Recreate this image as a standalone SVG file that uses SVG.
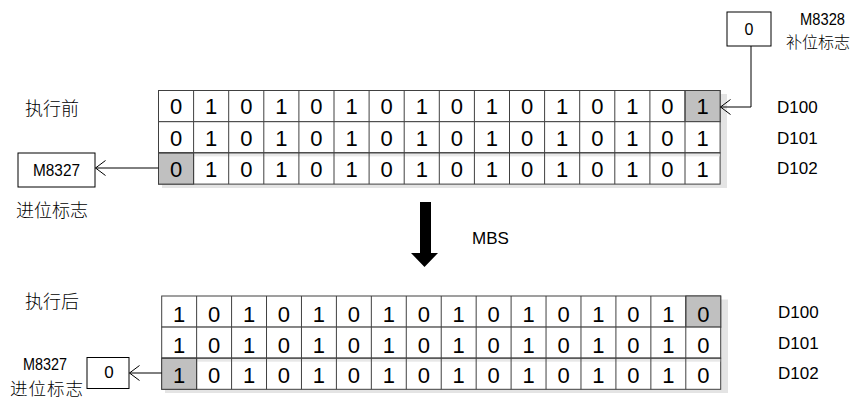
<svg xmlns="http://www.w3.org/2000/svg" width="862" height="401" viewBox="0 0 862 401">
<defs>
<style>
.bg{fill:#ffffff}
.cell{fill:#ffffff;stroke:#404040;stroke-width:1}
.grid{fill:none;stroke:#404040;stroke-width:1}
.hl{fill:#c0c0c0;stroke:#404040;stroke-width:1}
.shadow{fill:#e4e4e4}
.band{fill:#e8e8e8}
.d{font-family:"Liberation Sans",Arial,sans-serif;font-size:22px;fill:#000;text-anchor:middle}
.lbl{font-family:"Liberation Sans",Arial,sans-serif;font-size:17px;fill:#000}
.cjk{font-family:"Noto Sans CJK SC","Liberation Sans",sans-serif;font-size:18px;font-weight:300;fill:#000}
.box{fill:#ffffff;stroke:#000;stroke-width:1}
.conn{fill:none;stroke:#000;stroke-width:1}
</style>
<marker id="open" markerUnits="userSpaceOnUse" markerWidth="14" markerHeight="18" refX="12" refY="8" orient="auto" viewBox="0 0 14 16">
<path d="M2,0.5 L12,8 L2,15.5" fill="none" stroke="#000" stroke-width="1"/>
</marker>
</defs>
<rect class="bg" x="0" y="0" width="862" height="401"/>

<!-- labels -->
<text class="cjk" x="25" y="115">执行前</text>
<text class="cjk" x="16" y="217">进位标志</text>
<text class="cjk" x="25" y="308">执行后</text>

<!-- top grid -->
<g id="before-grid">
<rect class="shadow" x="162" y="94" width="565" height="94"/>
<g id="before-D100">
<rect class="cell" x="158.5" y="90.5" width="561.6" height="31.2"/>
<rect class="hl" x="685" y="90.5" width="35.1" height="31.2"/>
<path class="grid" d="M193.6,90.5v31.2M228.7,90.5v31.2M263.8,90.5v31.2M298.9,90.5v31.2M334,90.5v31.2M369.1,90.5v31.2M404.2,90.5v31.2M439.3,90.5v31.2M474.4,90.5v31.2M509.5,90.5v31.2M544.6,90.5v31.2M579.7,90.5v31.2M614.8,90.5v31.2M649.9,90.5v31.2M685,90.5v31.2"/>
<text class="d" x="176.05" y="113.5">0</text><text class="d" x="211.15" y="113.5">1</text><text class="d" x="246.25" y="113.5">0</text><text class="d" x="281.35" y="113.5">1</text><text class="d" x="316.45" y="113.5">0</text><text class="d" x="351.55" y="113.5">1</text><text class="d" x="386.65" y="113.5">0</text><text class="d" x="421.75" y="113.5">1</text><text class="d" x="456.85" y="113.5">0</text><text class="d" x="491.95" y="113.5">1</text><text class="d" x="527.05" y="113.5">0</text><text class="d" x="562.15" y="113.5">1</text><text class="d" x="597.25" y="113.5">0</text><text class="d" x="632.35" y="113.5">1</text><text class="d" x="667.45" y="113.5">0</text><text class="d" x="702.55" y="113.5">1</text>
</g>
<g id="before-D101">
<rect class="cell" x="158.5" y="121.7" width="561.6" height="31.2"/>
<path class="grid" d="M193.6,121.7v31.2M228.7,121.7v31.2M263.8,121.7v31.2M298.9,121.7v31.2M334,121.7v31.2M369.1,121.7v31.2M404.2,121.7v31.2M439.3,121.7v31.2M474.4,121.7v31.2M509.5,121.7v31.2M544.6,121.7v31.2M579.7,121.7v31.2M614.8,121.7v31.2M649.9,121.7v31.2M685,121.7v31.2"/>
<text class="d" x="176.05" y="146">0</text><text class="d" x="211.15" y="146">1</text><text class="d" x="246.25" y="146">0</text><text class="d" x="281.35" y="146">1</text><text class="d" x="316.45" y="146">0</text><text class="d" x="351.55" y="146">1</text><text class="d" x="386.65" y="146">0</text><text class="d" x="421.75" y="146">1</text><text class="d" x="456.85" y="146">0</text><text class="d" x="491.95" y="146">1</text><text class="d" x="527.05" y="146">0</text><text class="d" x="562.15" y="146">1</text><text class="d" x="597.25" y="146">0</text><text class="d" x="632.35" y="146">1</text><text class="d" x="667.45" y="146">0</text><text class="d" x="702.55" y="146">1</text>
</g>
<g id="before-D102">
<rect class="cell" x="158.5" y="152.9" width="561.6" height="31.2"/>
<rect class="band" x="159" y="153.4" width="560.6" height="3"/>
<rect class="hl" x="158.5" y="152.9" width="35.1" height="31.2"/>
<path class="grid" d="M158.5,152.9h561.6M193.6,152.9v31.2M228.7,152.9v31.2M263.8,152.9v31.2M298.9,152.9v31.2M334,152.9v31.2M369.1,152.9v31.2M404.2,152.9v31.2M439.3,152.9v31.2M474.4,152.9v31.2M509.5,152.9v31.2M544.6,152.9v31.2M579.7,152.9v31.2M614.8,152.9v31.2M649.9,152.9v31.2M685,152.9v31.2"/>
<text class="d" x="176.05" y="176.5">0</text><text class="d" x="211.15" y="176.5">1</text><text class="d" x="246.25" y="176.5">0</text><text class="d" x="281.35" y="176.5">1</text><text class="d" x="316.45" y="176.5">0</text><text class="d" x="351.55" y="176.5">1</text><text class="d" x="386.65" y="176.5">0</text><text class="d" x="421.75" y="176.5">1</text><text class="d" x="456.85" y="176.5">0</text><text class="d" x="491.95" y="176.5">1</text><text class="d" x="527.05" y="176.5">0</text><text class="d" x="562.15" y="176.5">1</text><text class="d" x="597.25" y="176.5">0</text><text class="d" x="632.35" y="176.5">1</text><text class="d" x="667.45" y="176.5">0</text><text class="d" x="702.55" y="176.5">1</text>
</g>
</g>

<text class="lbl" x="777" y="113">D100</text>
<text class="lbl" x="777" y="143.5">D101</text>
<text class="lbl" x="777" y="173.5">D102</text>

<g id="m8328-box">
<rect class="box" x="727" y="12" width="44" height="34"/>
<text class="lbl" x="749" y="35" text-anchor="middle" style="font-size:16px">0</text>
<text class="lbl" x="822.5" y="25" text-anchor="middle" textLength="45" lengthAdjust="spacingAndGlyphs">M8328</text>
<text class="cjk" x="786" y="48" style="font-size:16px">补位标志</text>
</g>

<g id="m8327-before">
<rect class="box" x="18" y="153" width="77" height="34"/>
<text class="lbl" x="56.5" y="176" text-anchor="middle" textLength="47" lengthAdjust="spacingAndGlyphs">M8327</text>
</g>

<g id="mbs-arrow">
<path d="M420,202 H431 V253 H438 L424.5,267 L411,253 H420 Z" fill="#000"/>
<text class="lbl" x="472" y="244">MBS</text>
</g>

<!-- bottom grid -->
<g id="after-grid">
<rect class="shadow" x="165" y="299.5" width="563" height="93.5"/>
<g id="after-D100">
<rect class="cell" x="161.7" y="296" width="559" height="31.1"/>
<rect class="hl" x="685.8" y="296" width="34.94" height="31.1"/>
<path class="grid" d="M196.64,296v31.1M231.58,296v31.1M266.52,296v31.1M301.46,296v31.1M336.4,296v31.1M371.34,296v31.1M406.28,296v31.1M441.22,296v31.1M476.16,296v31.1M511.1,296v31.1M546.04,296v31.1M580.98,296v31.1M615.92,296v31.1M650.86,296v31.1M685.8,296v31.1"/>
<text class="d" x="179.17" y="322">1</text><text class="d" x="214.11" y="322">0</text><text class="d" x="249.05" y="322">1</text><text class="d" x="283.99" y="322">0</text><text class="d" x="318.93" y="322">1</text><text class="d" x="353.87" y="322">0</text><text class="d" x="388.81" y="322">1</text><text class="d" x="423.75" y="322">0</text><text class="d" x="458.69" y="322">1</text><text class="d" x="493.63" y="322">0</text><text class="d" x="528.57" y="322">1</text><text class="d" x="563.51" y="322">0</text><text class="d" x="598.45" y="322">1</text><text class="d" x="633.39" y="322">0</text><text class="d" x="668.33" y="322">1</text><text class="d" x="703.27" y="322">0</text>
</g>
<g id="after-D101">
<rect class="cell" x="161.7" y="327.1" width="559" height="31.1"/>
<path class="grid" d="M196.64,327.1v31.1M231.58,327.1v31.1M266.52,327.1v31.1M301.46,327.1v31.1M336.4,327.1v31.1M371.34,327.1v31.1M406.28,327.1v31.1M441.22,327.1v31.1M476.16,327.1v31.1M511.1,327.1v31.1M546.04,327.1v31.1M580.98,327.1v31.1M615.92,327.1v31.1M650.86,327.1v31.1M685.8,327.1v31.1"/>
<text class="d" x="179.17" y="353">1</text><text class="d" x="214.11" y="353">0</text><text class="d" x="249.05" y="353">1</text><text class="d" x="283.99" y="353">0</text><text class="d" x="318.93" y="353">1</text><text class="d" x="353.87" y="353">0</text><text class="d" x="388.81" y="353">1</text><text class="d" x="423.75" y="353">0</text><text class="d" x="458.69" y="353">1</text><text class="d" x="493.63" y="353">0</text><text class="d" x="528.57" y="353">1</text><text class="d" x="563.51" y="353">0</text><text class="d" x="598.45" y="353">1</text><text class="d" x="633.39" y="353">0</text><text class="d" x="668.33" y="353">1</text><text class="d" x="703.27" y="353">0</text>
</g>
<g id="after-D102">
<rect class="cell" x="161.7" y="358.2" width="559" height="31.1"/>
<rect class="band" x="162.2" y="358.7" width="558" height="3"/>
<rect class="hl" x="161.7" y="358.2" width="34.94" height="31.1"/>
<path class="grid" d="M161.7,358.2h559M196.64,358.2v31.1M231.58,358.2v31.1M266.52,358.2v31.1M301.46,358.2v31.1M336.4,358.2v31.1M371.34,358.2v31.1M406.28,358.2v31.1M441.22,358.2v31.1M476.16,358.2v31.1M511.1,358.2v31.1M546.04,358.2v31.1M580.98,358.2v31.1M615.92,358.2v31.1M650.86,358.2v31.1M685.8,358.2v31.1"/>
<text class="d" x="179.17" y="383">1</text><text class="d" x="214.11" y="383">0</text><text class="d" x="249.05" y="383">1</text><text class="d" x="283.99" y="383">0</text><text class="d" x="318.93" y="383">1</text><text class="d" x="353.87" y="383">0</text><text class="d" x="388.81" y="383">1</text><text class="d" x="423.75" y="383">0</text><text class="d" x="458.69" y="383">1</text><text class="d" x="493.63" y="383">0</text><text class="d" x="528.57" y="383">1</text><text class="d" x="563.51" y="383">0</text><text class="d" x="598.45" y="383">1</text><text class="d" x="633.39" y="383">0</text><text class="d" x="668.33" y="383">1</text><text class="d" x="703.27" y="383">0</text>
</g>
</g>

<text class="lbl" x="778" y="318">D100</text>
<text class="lbl" x="778" y="348.5">D101</text>
<text class="lbl" x="778" y="379">D102</text>

<g id="m8327-after">
<rect class="box" x="87" y="357.5" width="42" height="31"/>
<text class="lbl" x="109" y="378" text-anchor="middle">0</text>
<text class="lbl" x="45" y="370" text-anchor="middle" textLength="44" lengthAdjust="spacingAndGlyphs">M8327</text>
<text class="cjk" x="10" y="395" style="font-size:17.5px" textLength="73" lengthAdjust="spacing">进位标志</text>
</g>

<g id="connectors">
<path class="conn" d="M751,46 V107 H720.5" marker-end="url(#open)"/>
<path class="conn" d="M158.5,168 H95.5" marker-end="url(#open)"/>
<path class="conn" d="M161.7,373 H129.5" marker-end="url(#open)"/>
</g>
</svg>
